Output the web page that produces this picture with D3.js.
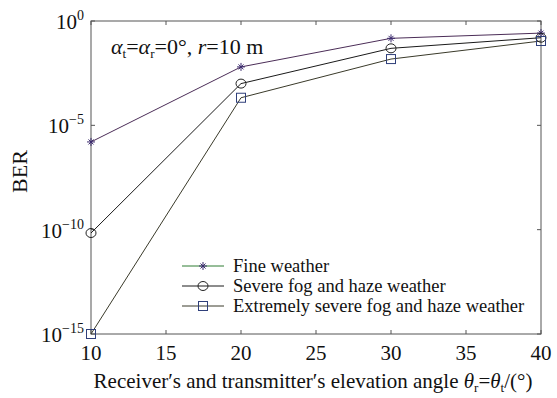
<!DOCTYPE html>
<html>
<head>
<meta charset="utf-8">
<script src="https://cdn.jsdelivr.net/npm/d3@7"></script>
<style>
  body { margin: 0; background: #fff; }
  svg text { font-family: "Liberation Serif", "DejaVu Serif", serif; fill: #111; }
</style>
</head>
<body>
<script>
// data
const angles = [10, 20, 30, 40];
const fineBER = [1.6e-6, 6.3e-3, 0.148, 0.263];
const severeBER = [6.9e-11, 1.0e-3, 0.049, 0.158];
const extremeBER = [1.0e-15, 2.1e-4, 0.015, 0.11];
const seriesNames = [
  "Fine weather",
  "Severe fog and haze weather",
  "Extremely severe fog and haze weather",
];
const xTicks = [10, 15, 20, 25, 30, 35, 40];
const yTickExps = [0, -5, -10, -15];

const W = 557, H = 398;
const margin = { left: 91, right: 16, top: 21, bottom: 64 };

const svg = d3.select("body").append("svg").attr("width", W).attr("height", H)
  .attr("font-family", "'Liberation Serif', 'DejaVu Serif', serif");

const x = d3.scaleLinear().domain([10, 40]).range([margin.left, W - margin.right]);
const y = d3.scaleLog().domain([1e-15, 1]).range([H - margin.bottom, margin.top]);

const series = [
  { name: seriesNames[0], values: fineBER, line: "#4b2d57", mark: "star", mcol: "#3b2a6e" },
  { name: seriesNames[1], values: severeBER, line: "#1a1a1a", mark: "circle", mcol: "#222" },
  { name: seriesNames[2], values: extremeBER, line: "#3a3a2a", mark: "square", mcol: "#2f3f7a" },
];

// frame
svg.append("rect")
  .attr("x", x(10)).attr("y", y(1))
  .attr("width", x(40) - x(10)).attr("height", y(1e-15) - y(1))
  .attr("fill", "none").attr("stroke", "#555").attr("stroke-width", 1);

// ticks inward on all sides
const tickLen = 4;
const tg = svg.append("g").attr("stroke", "#555").attr("stroke-width", 1);
xTicks.forEach(t => {
  tg.append("line").attr("x1", x(t)).attr("x2", x(t)).attr("y1", y(1e-15)).attr("y2", y(1e-15) - tickLen);
  tg.append("line").attr("x1", x(t)).attr("x2", x(t)).attr("y1", y(1)).attr("y2", y(1) + tickLen);
});
yTickExps.forEach(e => {
  const v = Math.pow(10, e);
  tg.append("line").attr("x1", x(10)).attr("x2", x(10) + tickLen).attr("y1", y(v)).attr("y2", y(v));
  tg.append("line").attr("x1", x(40)).attr("x2", x(40) - tickLen).attr("y1", y(v)).attr("y2", y(v));
});

// x tick labels
svg.append("g").selectAll("text").data(xTicks).enter().append("text")
  .attr("x", d => x(d)).attr("y", H - margin.bottom + 26)
  .attr("text-anchor", "middle").attr("font-size", 21)
  .text(d => d);

// y tick labels 10^n
const yl = svg.append("g").selectAll("text").data(yTickExps).enter().append("text")
  .attr("x", x(10) - 7).attr("y", d => y(Math.pow(10, d)) + 8)
  .attr("text-anchor", "end").attr("font-size", 21);
yl.append("tspan").text("10");
yl.append("tspan").attr("dy", -9).attr("font-size", 14)
  .text(d => (d === 0 ? "0" : "\u2212" + Math.abs(d)));

// axis titles
svg.append("text")
  .attr("transform", `translate(27,${(y(1) + y(1e-15)) / 2 - 6}) rotate(-90)`)
  .attr("text-anchor", "middle").attr("font-size", 22)
  .text("BER");

const xt = svg.append("text")
  .attr("x", (x(10) + x(40)) / 2 - 3).attr("y", H - 10)
  .attr("text-anchor", "middle").attr("font-size", 21);
xt.append("tspan").text("Receiver\u2032s and transmitter\u2032s elevation angle ");
xt.append("tspan").attr("font-style", "italic").text("\u03b8");
xt.append("tspan").attr("font-size", 13).attr("dy", 4).text("r");
xt.append("tspan").attr("dy", -4).text("=");
xt.append("tspan").attr("font-style", "italic").text("\u03b8");
xt.append("tspan").attr("font-size", 13).attr("dy", 4).text("t");
xt.append("tspan").attr("dy", -4).text("/(\u00b0)");

// annotation
const ann = svg.append("text").attr("x", 111).attr("y", 54).attr("font-size", 22);
ann.append("tspan").attr("font-style", "italic").text("\u03b1");
ann.append("tspan").attr("font-size", 13).attr("dy", 4).text("t");
ann.append("tspan").attr("dy", -4).text("=");
ann.append("tspan").attr("font-style", "italic").text("\u03b1");
ann.append("tspan").attr("font-size", 13).attr("dy", 4).text("r");
ann.append("tspan").attr("dy", -4).text("=0\u00b0, ");
ann.append("tspan").attr("font-style", "italic").text("r");
ann.append("tspan").text("=10 m");

// markers
function drawMarker(g, kind, cx, cy, col) {
  if (kind === "star") {
    const s = 4;
    g.append("path")
      .attr("d", `M${cx - s},${cy}L${cx + s},${cy}M${cx},${cy - s}L${cx},${cy + s}` +
        `M${cx - 2.5},${cy - 2.5}L${cx + 2.5},${cy + 2.5}M${cx - 2.5},${cy + 2.5}L${cx + 2.5},${cy - 2.5}`)
      .attr("stroke", col).attr("stroke-width", 1).attr("fill", "none");
  } else if (kind === "circle") {
    g.append("ellipse").attr("cx", cx).attr("cy", cy).attr("rx", 5).attr("ry", 4.5)
      .attr("fill", "none").attr("stroke", col).attr("stroke-width", 1);
  } else {
    g.append("rect").attr("x", cx - 4.5).attr("y", cy - 4.5).attr("width", 9).attr("height", 9)
      .attr("fill", "none").attr("stroke", col).attr("stroke-width", 1);
  }
}

const line = d3.line().x((d, i) => x(angles[i])).y(d => y(d));
series.forEach(s => {
  svg.append("path").datum(s.values).attr("d", line)
    .attr("fill", "none").attr("stroke", s.line).attr("stroke-width", 1);
});
series.forEach(s => {
  const g = svg.append("g");
  s.values.forEach((v, i) => drawMarker(g, s.mark, x(angles[i]), y(v), s.mcol));
});

// legend
const legX = 182, legY = 266, legStep = 20;
series.forEach((s, i) => {
  const ly = legY + i * legStep;
  const g = svg.append("g");
  g.append("line").attr("x1", legX).attr("x2", legX + 42).attr("y1", ly).attr("y2", ly)
    .attr("stroke", i === 0 ? "#2e7d32" : s.line).attr("stroke-width", 1);
  drawMarker(g, s.mark, legX + 21, ly, s.mcol);
  g.append("text").attr("x", legX + 51).attr("y", ly + 6).attr("font-size", 18.5).text(s.name);
});
</script>
</body>
</html>
